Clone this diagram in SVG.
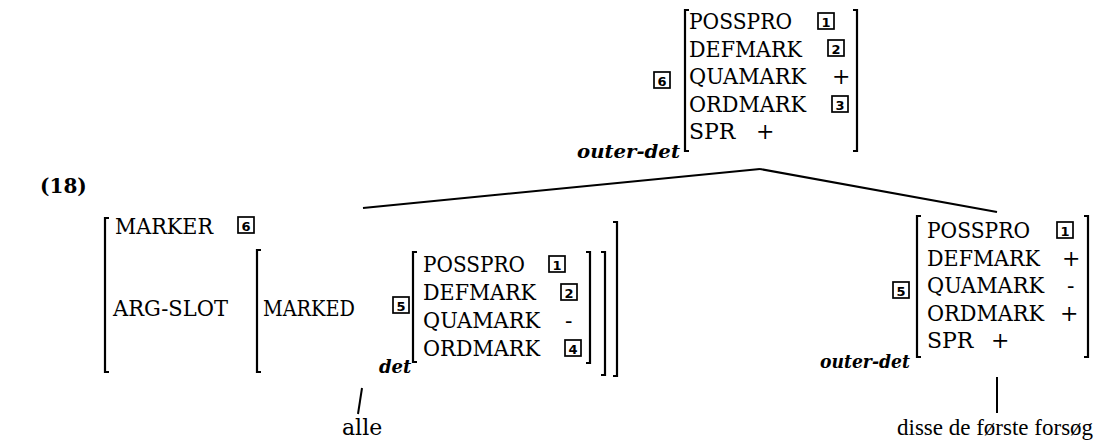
<svg xmlns="http://www.w3.org/2000/svg" width="1101" height="445" viewBox="0 0 1101 445">
<style>
.t{font-family:"DejaVu Serif","Liberation Serif",serif;font-size:22px;fill:#000}
.i{font-family:"DejaVu Serif","Liberation Serif",serif;font-size:18px;font-style:italic;font-weight:bold;fill:#000}
.b{font-family:"DejaVu Serif","Liberation Serif",serif;font-size:20px;font-weight:bold;fill:#000}
.n{font-family:"DejaVu Sans","Liberation Sans",sans-serif;font-size:13px;font-weight:bold;fill:#000;text-anchor:middle}
.w{font-family:"Liberation Serif","DejaVu Serif",serif;font-size:23px;fill:#000}
.bx{fill:none;stroke:#000;stroke-width:1.7}
.br{fill:none;stroke:#000;stroke-width:2.2}
.ln{fill:none;stroke:#000;stroke-width:2}
</style>
<defs>
<g id="tag"><rect class="bx" x="0" y="0" width="16" height="16"/></g>
</defs>
<text class="b" x="40" y="193">(18)</text>

<g id="top-avm">
<path class="br" d="M689,10 H685 V151 H689"/>
<path class="br" d="M853,10 H857 V151 H853"/>
<text class="t" x="689" y="29" textLength="103" lengthAdjust="spacingAndGlyphs">POSSPRO</text>
<use href="#tag" x="818" y="13"/><text class="n" x="826" y="26.5">1</text>
<text class="t" x="689" y="56.5" textLength="113" lengthAdjust="spacingAndGlyphs">DEFMARK</text>
<use href="#tag" x="828" y="40"/><text class="n" x="836" y="53.5">2</text>
<text class="t" x="689" y="84" textLength="117" lengthAdjust="spacingAndGlyphs">QUAMARK</text>
<text class="t" x="832" y="84">+</text>
<text class="t" x="689" y="111.5" textLength="117" lengthAdjust="spacingAndGlyphs">ORDMARK</text>
<use href="#tag" x="832" y="96"/><text class="n" x="840" y="109.5">3</text>
<text class="t" x="689" y="139">SPR</text>
<text class="t" x="756" y="139">+</text>
<use href="#tag" x="654" y="72"/><text class="n" x="662" y="85.5">6</text>
<text class="i" x="577" y="158" textLength="103" lengthAdjust="spacingAndGlyphs">outer-det</text>
</g>

<g id="connectors">
<path class="ln" d="M760,169 L363,208"/>
<path class="ln" d="M760,169 L997,212"/>
<path class="ln" d="M362,388 L358,414"/>
<path class="ln" d="M997,377 V413"/>
</g>

<g id="left-avm">
<path class="br" d="M109,218 H105 V372 H109"/>
<path class="br" d="M613,222 H617 V376 H613"/>
<text class="t" x="115" y="234" textLength="98" lengthAdjust="spacingAndGlyphs">MARKER</text>
<use href="#tag" x="238" y="217"/><text class="n" x="246" y="230.5">6</text>
<text class="t" x="113" y="316" textLength="115" lengthAdjust="spacingAndGlyphs">ARG-SLOT</text>
<path class="br" d="M261,250 H257 V372 H261"/>
<path class="br" d="M601,252 H605 V375 H601"/>
<text class="t" x="263" y="316" textLength="92" lengthAdjust="spacingAndGlyphs">MARKED</text>
<use href="#tag" x="393" y="297"/><text class="n" x="401" y="310.5">5</text>
<path class="br" d="M417,252 H413 V362 H417"/>
<path class="br" d="M586,252 H590 V363 H586"/>
<text class="t" x="423" y="272" textLength="102" lengthAdjust="spacingAndGlyphs">POSSPRO</text>
<use href="#tag" x="549" y="256"/><text class="n" x="557" y="269.5">1</text>
<text class="t" x="423" y="300" textLength="113" lengthAdjust="spacingAndGlyphs">DEFMARK</text>
<use href="#tag" x="561" y="284"/><text class="n" x="569" y="297.5">2</text>
<text class="t" x="423" y="328" textLength="117" lengthAdjust="spacingAndGlyphs">QUAMARK</text>
<text class="t" x="565" y="328">-</text>
<text class="t" x="423" y="356" textLength="117" lengthAdjust="spacingAndGlyphs">ORDMARK</text>
<use href="#tag" x="565" y="340"/><text class="n" x="573" y="353.5">4</text>
<text class="i" x="379" y="373">det</text>
</g>

<g id="alle">
<text class="t" x="342" y="435">alle</text>
</g>

<g id="right-avm">
<path class="br" d="M921,216 H917 V357 H921"/>
<path class="br" d="M1084,216 H1088 V357 H1084"/>
<text class="t" x="927" y="238" textLength="103" lengthAdjust="spacingAndGlyphs">POSSPRO</text>
<use href="#tag" x="1057" y="222"/><text class="n" x="1065" y="235.5">1</text>
<text class="t" x="927" y="265.5" textLength="113" lengthAdjust="spacingAndGlyphs">DEFMARK</text>
<text class="t" x="1062" y="265.5">+</text>
<text class="t" x="927" y="293" textLength="117" lengthAdjust="spacingAndGlyphs">QUAMARK</text>
<text class="t" x="1067" y="293">-</text>
<text class="t" x="927" y="320.5" textLength="117" lengthAdjust="spacingAndGlyphs">ORDMARK</text>
<text class="t" x="1060" y="320.5">+</text>
<text class="t" x="927" y="348">SPR</text>
<text class="t" x="991" y="348">+</text>
<use href="#tag" x="893" y="282"/><text class="n" x="901" y="295.5">5</text>
<text class="i" x="820" y="368" textLength="90" lengthAdjust="spacingAndGlyphs">outer-det</text>
</g>

<g id="disse">
<text class="w" x="897" y="435">disse de første forsøg</text>
</g>
</svg>
